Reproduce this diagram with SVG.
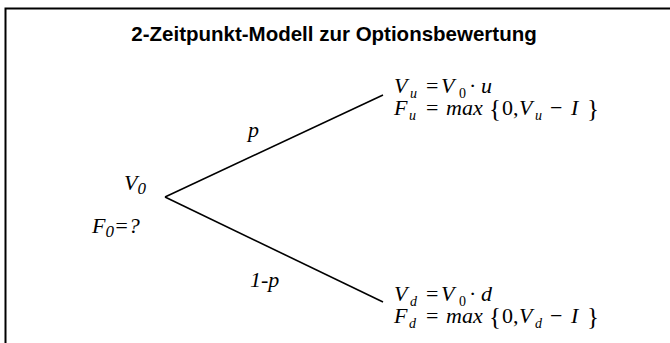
<svg xmlns="http://www.w3.org/2000/svg" width="670" height="343" viewBox="0 0 670 343">
<style>
.m{font-family:"Liberation Serif","Times New Roman","DejaVu Serif",serif;font-style:italic;font-size:22px;fill:#000}
.r{font-style:normal}
.s{font-size:14px}
.b{font-style:normal;font-size:25px}
.t{font-family:"Liberation Sans",Arial,sans-serif;font-weight:bold;font-size:20.5px;fill:#000}
.l{stroke:#000;stroke-width:1.6;fill:none}
</style>
<rect x="0" y="0" width="670" height="343" fill="#fff"/>
<rect x="5.5" y="8.5" width="700" height="400" fill="none" stroke="#000" stroke-width="2"/>
<text class="t" x="334" y="41" text-anchor="middle">2-Zeitpunkt-Modell zur Optionsbewertung</text>
<g id="connectors">
<line class="l" x1="165" y1="197" x2="383" y2="95"/>
<line class="l" x1="165" y1="197" x2="383" y2="302"/>
</g>
<g id="root">
<text class="m" x="124" y="190">V<tspan font-size="17" dy="4">0</tspan></text>
<text class="m" x="92" y="233">F<tspan font-size="17" dy="4">0</tspan><tspan dy="-4">=?</tspan></text>
</g>
<g id="label-p"><text class="m" x="248" y="137" font-size="20">p</text></g>
<g id="label-1-p"><text class="m" x="250" y="287" font-size="20">1-p</text></g>
<g id="up">
<text class="m" y="93"><tspan x="394">V</tspan><tspan class="s" x="410" dy="5">u</tspan><tspan class="r" x="426" dy="-5">=</tspan><tspan x="441">V</tspan><tspan class="r s" x="459" dy="5">0</tspan><tspan class="r" x="469" dy="-5">·</tspan><tspan x="481">u</tspan></text>
<text class="m" y="115"><tspan x="394">F</tspan><tspan class="s" x="409" dy="5">u</tspan><tspan class="r" x="426" dy="-5">=</tspan><tspan x="446">max</tspan><tspan class="b" x="489" dy="2">{</tspan><tspan class="r" x="502" dy="-2">0,</tspan><tspan x="519">V</tspan><tspan class="s" x="535" dy="5">u</tspan><tspan class="r" x="550" dy="-5">−</tspan><tspan x="571">I</tspan><tspan class="b" x="587" dy="2">}</tspan></text>
</g>
<g id="down">
<text class="m" y="301"><tspan x="394">V</tspan><tspan class="s" x="410" dy="5">d</tspan><tspan class="r" x="426" dy="-5">=</tspan><tspan x="441">V</tspan><tspan class="r s" x="459" dy="5">0</tspan><tspan class="r" x="469" dy="-5">·</tspan><tspan x="481">d</tspan></text>
<text class="m" y="323"><tspan x="394">F</tspan><tspan class="s" x="409" dy="5">d</tspan><tspan class="r" x="426" dy="-5">=</tspan><tspan x="446">max</tspan><tspan class="b" x="489" dy="2">{</tspan><tspan class="r" x="502" dy="-2">0,</tspan><tspan x="519">V</tspan><tspan class="s" x="535" dy="5">d</tspan><tspan class="r" x="550" dy="-5">−</tspan><tspan x="571">I</tspan><tspan class="b" x="587" dy="2">}</tspan></text>
</g>
</svg>
